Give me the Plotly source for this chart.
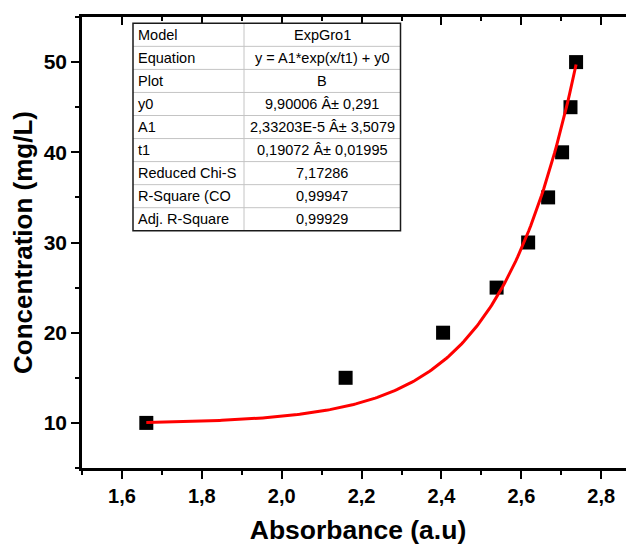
import math
import plotly.graph_objects as go

# ---- data ----
absorbance = [1.661, 2.16, 2.404, 2.538, 2.617, 2.667, 2.702, 2.723, 2.737]
concentration = [10, 15, 20, 25, 30, 35, 40, 45, 50]

# fit parameters (ExpGro1: y = A1*exp(x/t1) + y0) as shown in the table
y0 = 9.90006
A1 = 2.33203e-5
t1 = 0.19072

table_labels = ["Model", "Equation", "Plot", "y0", "A1", "t1",
                "Reduced Chi-S", "R-Square (CO", "Adj. R-Square"]
table_values = ["ExpGro1", "y = A1*exp(x/t1) + y0", "B",
                "9,90006 Â± 0,291", "2,33203E-5 Â± 3,5079", "0,19072 Â± 0,01995",
                "7,17286", "0,99947", "0,99929"]

x_range = [1.5, 2.882]
y_range = [5, 55]

# fitted curve from the displayed parameters
n = 200
fit_x = [absorbance[0] + (absorbance[-1] - absorbance[0]) * i / (n - 1) for i in range(n)]
fit_y = [A1 * math.exp(v / t1) + y0 for v in fit_x]

FONT = "Liberation Sans, Arial, sans-serif"

# page geometry: the figure sits 8 px in from the page corner (body margin)
OFF = 8
W, H = 634 - OFF, 545 - OFF
# plot area in page pixels: x 82..634, y 17..468
ML, MR, MT, MB = 82 - OFF, 0, 17 - OFF, 545 - 468
PW, PH = W - ML - MR, H - MT - MB


def px(xp):  # page x pixel -> paper
    return (xp - OFF - ML) / PW


def py(yp):  # page y pixel -> paper
    return (H - MB - (yp - OFF)) / PH


fig = go.Figure()
fig.add_trace(go.Scatter(
    x=absorbance, y=concentration, mode="markers",
    marker=dict(symbol="square", size=14, color="black", line=dict(width=0)),
    showlegend=False, hoverinfo="skip"))
fig.add_trace(go.Scatter(
    x=fit_x, y=fit_y, mode="lines",
    line=dict(color="#ff0000", width=3),
    showlegend=False, hoverinfo="skip"))
# dummy trace to create the mirrored (top) axis
fig.add_trace(go.Scatter(x=[None], y=[None], xaxis="x2", yaxis="y2",
                         showlegend=False, hoverinfo="skip"))

# ---- fit-results table (shapes + text) ----
tx0, tx1, tdiv = 133, 400.5, 244
ty0, rowh = 23.3, 23.05
nrows = len(table_labels)
ty1 = ty0 + nrows * rowh

fig.add_shape(type="rect", xref="paper", yref="paper",
              x0=px(tx0), x1=px(tx1), y0=py(ty1), y1=py(ty0),
              fillcolor="white", line=dict(width=0), layer="above")
for i in range(1, nrows):
    yy = py(ty0 + i * rowh)
    fig.add_shape(type="line", xref="paper", yref="paper",
                  x0=px(tx0), x1=px(tx1), y0=yy, y1=yy,
                  line=dict(color="#c4c4c4", width=1), layer="above")
fig.add_shape(type="line", xref="paper", yref="paper",
              x0=px(tdiv), x1=px(tdiv), y0=py(ty1), y1=py(ty0),
              line=dict(color="#c4c4c4", width=1), layer="above")
fig.add_shape(type="rect", xref="paper", yref="paper",
              x0=px(tx0), x1=px(tx1), y0=py(ty1), y1=py(ty0),
              line=dict(color="#1a1a1a", width=1.5), layer="above")

for i, (lab, val) in enumerate(zip(table_labels, table_values)):
    yc = py(ty0 + (i + 0.5) * rowh)
    fig.add_annotation(x=px(tx0 + 3), y=yc, xref="paper", yref="paper",
                       text=lab, showarrow=False, xanchor="left", yanchor="middle",
                       font=dict(family=FONT, size=14.5, color="black"))
    fig.add_annotation(x=px((tdiv + tx1) / 2), y=yc, xref="paper", yref="paper",
                       text=val, showarrow=False, xanchor="center", yanchor="middle",
                       font=dict(family=FONT, size=14.5, color="black"))

axis_common = dict(showgrid=False, zeroline=False, showline=True,
                   linecolor="black", linewidth=2.5, automargin=False,
                   tickcolor="black", tickwidth=2, ticklen=8)

fig.update_layout(
    template="none",
    width=W, height=H,
    margin=dict(l=ML, r=MR, t=MT, b=MB),
    paper_bgcolor="white", plot_bgcolor="white",
    separators=",.",
    font=dict(family=FONT, color="black"),
    xaxis=dict(range=x_range, ticks="outside", tick0=1.6, dtick=0.2,
               tickformat=".1f",
               tickfont=dict(family=FONT, size=20, color="black", weight="bold"),
               minor=dict(ticks="outside", dtick=0.1, tick0=1.5, ticklen=4,
                          tickwidth=2, tickcolor="black"),
               title=dict(text="<b>Absorbance (a.u)</b>", standoff=19,
                          font=dict(family=FONT, size=26.5, color="black")),
               **axis_common),
    yaxis=dict(range=y_range, ticks="outside", tick0=0, dtick=10,
               tickfont=dict(family=FONT, size=21, color="black", weight="bold"),
               minor=dict(ticks="outside", dtick=5, tick0=0, ticklen=4,
                          tickwidth=2, tickcolor="black"),
               title=dict(text="<b>Concentration (mg/L)</b>", standoff=7,
                          font=dict(family=FONT, size=26, color="black")),
               **axis_common),
    xaxis2=dict(range=x_range, overlaying="x", side="top", anchor="y2",
                ticks="inside", tick0=1.6, dtick=0.2, showticklabels=False,
                minor=dict(ticks="inside", dtick=0.1, tick0=1.5, ticklen=4,
                           tickwidth=2, tickcolor="black"),
                **axis_common),
    yaxis2=dict(range=y_range, overlaying="y", side="right", anchor="x2",
                showline=False, showgrid=False, zeroline=False, automargin=False,
                ticks="", showticklabels=False),
)

fig.write_html("out.html")
